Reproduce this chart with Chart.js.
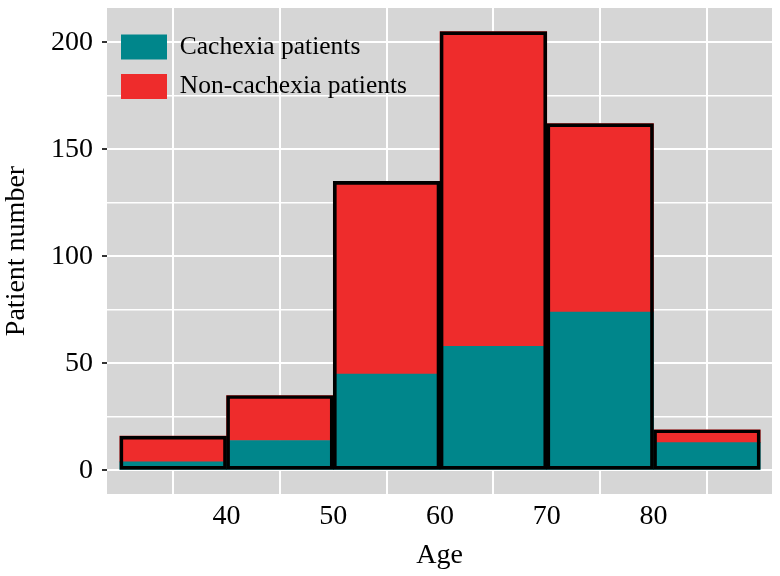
<!DOCTYPE html>
<html>
<head>
<meta charset="utf-8">
<script src="https://cdn.jsdelivr.net/npm/chart.js@4"></script>
<style>
  html, body { margin: 0; padding: 0; background: #fff; }
  #wrap { width: 780px; height: 576px; }
</style>
</head>
<body>
<div id="wrap"><canvas id="hist"></canvas></div>
<script>
// age bins (bin centres), counts
const ageBins = [35, 45, 55, 65, 75, 85];
const cachexia = [4, 14, 45, 58, 74, 13];
const nonCachexia = [12, 21, 90, 147, 88, 6];
const yTicks = [0, 25, 50, 75, 100, 125, 150, 175, 200];
const xTickLabels = [40, 50, 60, 70, 80];

const totals = cachexia.map((v, i) => v + nonCachexia[i]);
const pts = arr => arr.map((v, i) => ({ x: ageBins[i], y: v }));

const FONT = 'Liberation Serif';
const GRAY_BG = '#d6d6d6';
const X_MIN = 28.8, X_MAX = 91.1;

// grey panel behind the bars
const panelBg = {
    id: 'panelBg',
    beforeDraw(chart) {
        const a = chart.chartArea;
        const ctx = chart.ctx;
        ctx.save();
        ctx.fillStyle = GRAY_BG;
        ctx.fillRect(a.left, a.top, a.right - a.left, a.bottom - a.top);
        ctx.restore();
    }
};

var ctx = document.getElementById("hist");
var myChart = new Chart(ctx, {
    type: 'bar',
    data: {
        datasets: [{
            label: 'Cachexia patients',
            data: pts(cachexia),
            backgroundColor: '#00868B',
            borderWidth: 0,
            stack: 'a',
            grouped: false,
            barPercentage: 1,
            categoryPercentage: 1
        }, {
            label: 'Non-cachexia patients',
            data: pts(nonCachexia),
            backgroundColor: '#EE2C2C',
            borderWidth: 0,
            stack: 'a',
            grouped: false,
            barPercentage: 1,
            categoryPercentage: 1
        }, {
            label: 'outline',
            data: pts(totals),
            backgroundColor: 'rgba(0,0,0,0)',
            borderColor: '#000',
            borderWidth: 3,
            borderSkipped: false,
            stack: 'b',
            grouped: false,
            order: -1,
            barPercentage: 1,
            categoryPercentage: 1
        }]
    },
    options: {
        responsive: true,
        maintainAspectRatio: false,
        animation: false,
        layout: { padding: { left: 0, top: 8, right: 8, bottom: 0 } },
        plugins: {
            tooltip: { enabled: false },
            legend: {
                position: 'chartArea',
                align: 'start',
                title: {
                    display: true,
                    text: ' ',
                    padding: { top: 19, bottom: 0 },
                    font: { size: 1 }
                },
                labels: {
                    filter: item => item.text !== 'outline',
                    boxWidth: 46,
                    boxHeight: 25,
                    padding: 14,
                    color: '#000',
                    font: { family: FONT, size: 25.5 }
                }
            }
        },
        scales: {
            // bar axis: grid lines at the bin centres, no labels
            x: {
                type: 'linear',
                position: 'bottom',
                min: X_MIN,
                max: X_MAX,
                offset: false,
                afterBuildTicks: s => { s.ticks = ageBins.map(v => ({ value: v })); },
                afterFit: s => { s.height = 0; s.paddingLeft = 0; s.paddingRight = 0; },
                border: { display: false },
                grid: { color: '#fff', lineWidth: 2, drawTicks: false, offset: false },
                ticks: { display: false }
            },
            // label axis: ticks at the bin edges
            x2: {
                type: 'linear',
                position: 'bottom',
                min: X_MIN,
                max: X_MAX,
                offset: false,
                afterBuildTicks: s => { s.ticks = xTickLabels.map(v => ({ value: v })); },
                afterFit: s => { s.height = 82; s.paddingLeft = 0; s.paddingRight = 0; },
                border: { display: false },
                grid: { display: false, drawOnChartArea: false, tickLength: 4, offset: false },
                ticks: {
                    autoSkip: false,
                    maxRotation: 0,
                    color: '#000',
                    padding: 2,
                    font: { family: FONT, size: 28 }
                },
                title: {
                    display: true,
                    text: 'Age',
                    color: '#000',
                    padding: { top: 0, bottom: 4 },
                    font: { family: FONT, size: 28 }
                }
            },
            y: {
                min: -11,
                max: 216,
                afterBuildTicks: s => { s.ticks = yTicks.map(v => ({ value: v })); },
                afterFit: s => { s.width = 107; s.paddingTop = 0; s.paddingBottom = 0; },
                border: { display: false },
                grid: {
                    color: '#fff',
                    lineWidth: c => (c.tick && c.tick.value % 50 === 0) ? 2 : 1.5,
                    tickColor: c => (c.tick && c.tick.value % 50 === 0) ? '#333' : 'rgba(0,0,0,0)',
                    tickLength: 5
                },
                ticks: {
                    color: '#000',
                    padding: 9,
                    font: { family: FONT, size: 28 },
                    callback: v => (v % 50 === 0 ? v : '')
                },
                title: {
                    display: true,
                    text: 'Patient number',
                    color: '#000',
                    padding: { top: 0, bottom: 0 },
                    font: { family: FONT, size: 28 }
                }
            }
        }
    },
    plugins: [panelBg]
});
</script>
</body>
</html>
